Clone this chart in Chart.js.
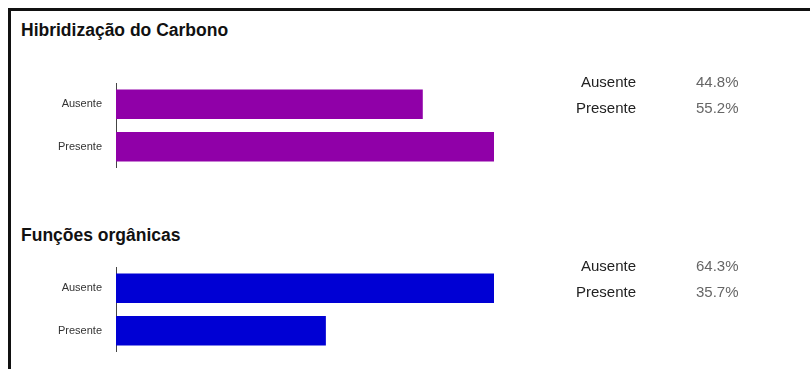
<!DOCTYPE html>
<html>
<head>
<meta charset="utf-8">
<script src="https://cdn.jsdelivr.net/npm/chart.js@4/dist/chart.umd.min.js"></script>
<style>
  html, body { margin: 0; padding: 0; background: #fff; }
  #page { position: relative; width: 810px; height: 369px; overflow: hidden;
          font-family: "Liberation Sans", Arial, sans-serif; }
  #frame { position: absolute; left: 8px; top: 8px; width: 840px; height: 400px;
           border-top: 3px solid #111; border-left: 3px solid #111; }
  .title { position: absolute; left: 21px; font-weight: bold; font-size: 17.5px;
           line-height: 20px; color: #111; white-space: nowrap; }
  .chart { position: absolute; left: 0; width: 810px; height: 85px; }
  .row { position: absolute; left: 0; width: 810px; height: 18px; font-size: 15px; line-height: 18px; }
  .row .lbl { position: absolute; right: 174px; color: #222; }
  .row .val { position: absolute; left: 696px; color: #666; }
</style>
</head>
<body>
<div id="page">
  <div id="frame"></div>
  <div class="title" style="top:20px">Hibridização do Carbono</div>
  <div class="chart" style="top:83px"><canvas id="hib"></canvas></div>
  <div id="hibTable"></div>
  <div class="title" style="top:225px">Funções orgânicas</div>
  <div class="chart" style="top:267px"><canvas id="fun"></canvas></div>
  <div id="funTable"></div>
</div>
<script>
// Hibridização do Carbono
const hibCategories = ['Ausente', 'Presente'];
const hibPercent = [44.8, 55.2];

// Funções orgânicas
const funCategories = ['Ausente', 'Presente'];
const funPercent = [64.3, 35.7];

const FONT = '"Liberation Sans", Arial, sans-serif';

function barChart(id, labels, values, color) {
  return new Chart(document.getElementById(id), {
    type: 'bar',
    data: {
      labels: labels,
      datasets: [{
        data: values,
        backgroundColor: color,
        borderWidth: 0,
        barPercentage: 0.69,
        categoryPercentage: 1
      }]
    },
    options: {
      indexAxis: 'y',
      responsive: true,
      maintainAspectRatio: false,
      animation: false,
      devicePixelRatio: 1,
      layout: { padding: { left: 0, right: 316, top: 0, bottom: 0 } },
      plugins: { legend: { display: false }, tooltip: { enabled: false } },
      scales: {
        x: { display: false, min: 0, max: Math.max(...values) },
        y: {
          grid: { display: false, drawTicks: false },
          border: { display: true, color: '#444', width: 1 },
          ticks: { color: '#333', padding: 14, font: { family: FONT, size: 11 } },
          afterFit: (scale) => {
            // fixed label column; the axis line runs the full height of the plot
            scale.width = 116;
            scale.paddingTop = 0;
            scale.paddingBottom = 0;
          }
        }
      }
    }
  });
}

// Summary rows: category on the left, its percentage on the right
function summary(containerId, labels, values, tops) {
  const box = document.getElementById(containerId);
  labels.forEach((name, i) => {
    const row = document.createElement('div');
    row.className = 'row';
    row.style.top = tops[i] + 'px';
    const l = document.createElement('span');
    l.className = 'lbl';
    l.textContent = name;
    const v = document.createElement('span');
    v.className = 'val';
    v.textContent = values[i].toFixed(1) + '%';
    row.appendChild(l);
    row.appendChild(v);
    box.appendChild(row);
  });
}

barChart('hib', hibCategories, hibPercent, '#9000a8');
barChart('fun', funCategories, funPercent, '#0000d4');
summary('hibTable', hibCategories, hibPercent, [73, 99]);
summary('funTable', funCategories, funPercent, [257, 283]);
</script>
</body>
</html>
